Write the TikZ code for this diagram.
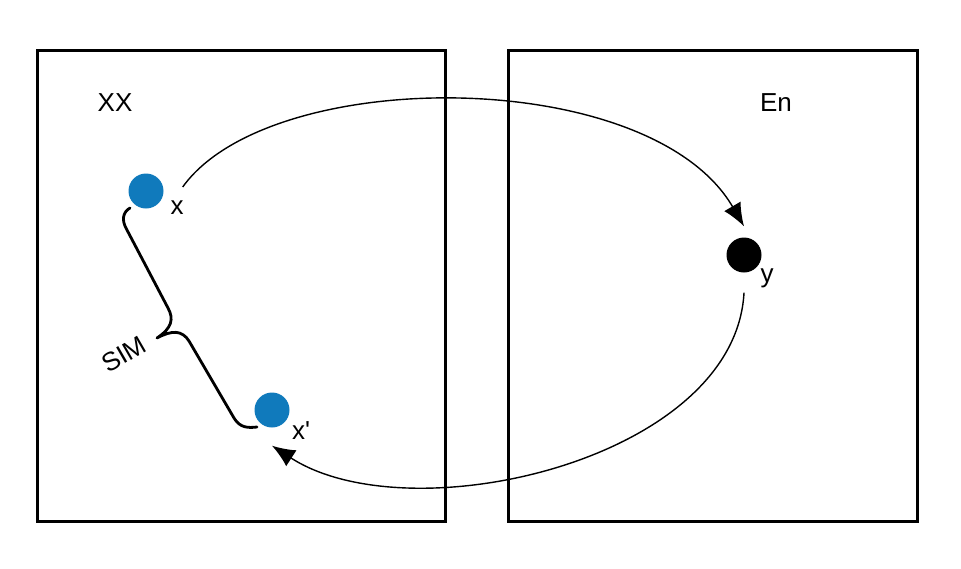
\documentclass[tikz,border=0pt]{standalone}
\usepackage{fontspec}
\setmainfont{Liberation Sans}
\usetikzlibrary{arrows.meta}
\definecolor{dotblue}{RGB}{16,122,188}
\begin{document}
\begin{tikzpicture}[x=1pt,y=-1pt,
  frame/.style={draw=black,line width=3pt},
  dot/.style={circle,inner sep=0pt,minimum size=35pt},
  lbl/.style={font=\fontsize{26}{30}\selectfont,inner sep=0pt},
  conn/.style={line width=1.4pt,-{Latex[length=23pt,width=19pt]}},
  bracepath/.style={line width=2.8pt,line cap=round,line join=round}]
\useasboundingbox (0,0) rectangle (961,568);
\node[frame,minimum width=408pt,minimum height=471pt,inner sep=0pt] (L) at (241,285.5) {};
\node[frame,minimum width=409pt,minimum height=471pt,inner sep=0pt] (R) at (712.5,285.5) {};
\node[lbl] (lXX) at (115,103) {XX};
\node[lbl] (lEn) at (776,103) {En};
\node[dot,fill=dotblue] (dx) at (146,191) {};
\node[dot,fill=dotblue] (dxp) at (272,410) {};
\node[dot,fill=black] (y) at (744,255) {};
\node[lbl] (lx) at (177,208) {x};
\node[lbl] (ly) at (767,278) {y};
\node[lbl] (lxp) at (301,431) {x\textquotesingle};
\draw[conn] ([xshift=19pt,yshift=4pt]dx.east) .. controls (270,65) and (650,65) .. ([yshift=11pt]y.north);
\draw[conn] ([yshift=-20pt]y.south) .. controls (735,460) and (410,535) .. ([yshift=-18pt]dxp.south);
\coordinate (bt) at (130,208);
\coordinate (btip) at (157,338);
\coordinate (bb) at (257,427);
\draw[bracepath] (bt) .. controls (123,212) and (121,220) .. (127,230) -- (168,308)
  .. controls (174,319) and (172,328) .. (btip)
  .. controls (172,330) and (182,330) .. (189,341) -- (234,418)
  .. controls (240,428) and (248,428) .. (bb);
\node[lbl,rotate=30] (lSIM) at (124,354) {SIM};
\end{tikzpicture}
\end{document}
